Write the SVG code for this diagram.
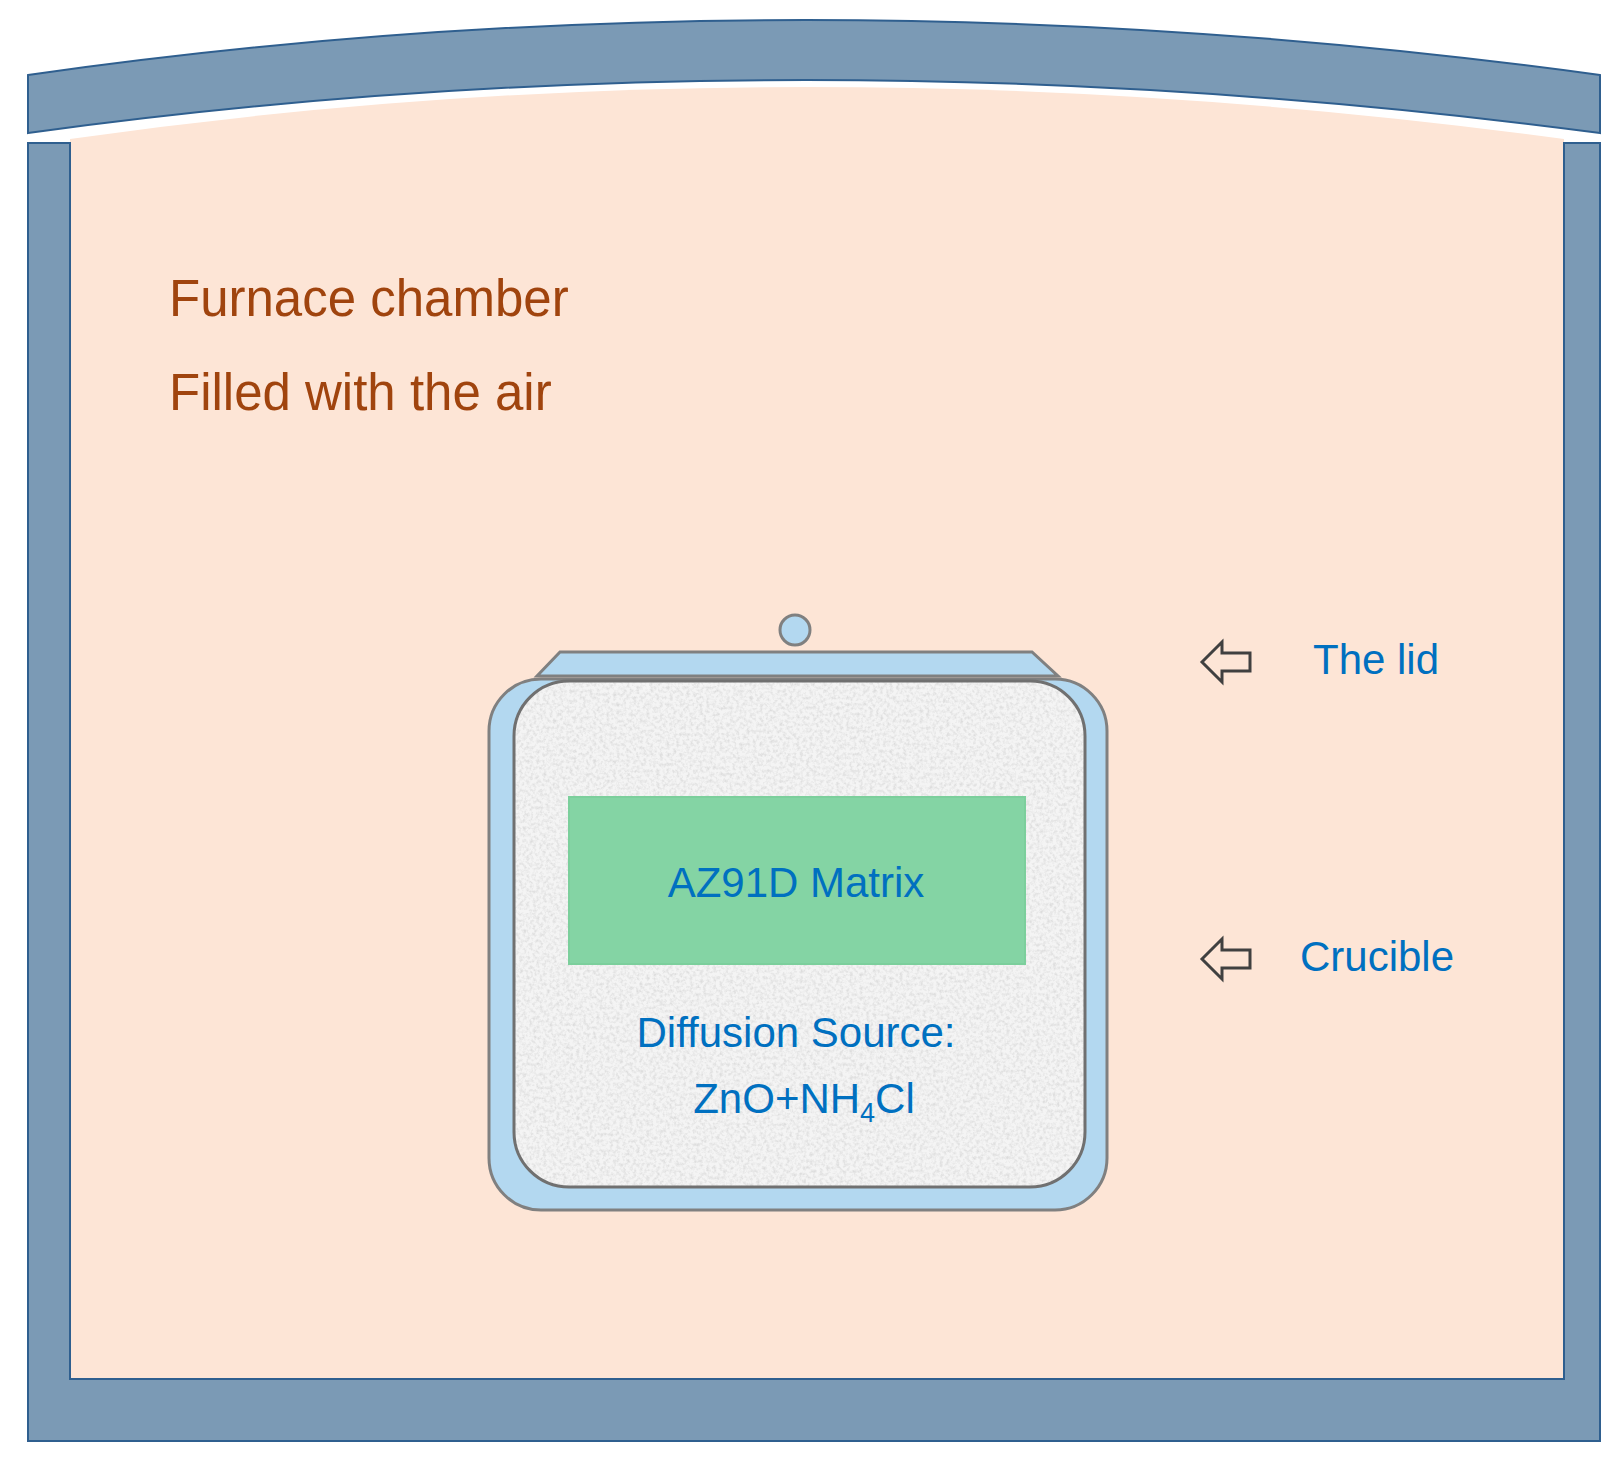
<svg xmlns="http://www.w3.org/2000/svg" width="1617" height="1463" viewBox="0 0 1617 1463">
<style>
.wall{fill:#7b9ab5;stroke:#2f5f8f;stroke-width:2}
.lbl{font-family:"Liberation Sans",Arial,sans-serif;fill:#0070c0}
.ch{font-family:"Liberation Sans",Arial,sans-serif;fill:#a0440e;font-size:51px}
.arr{fill:#fde5d6;stroke:#404040;stroke-width:3;stroke-linejoin:miter}
</style>
<defs>
<filter id="noise" x="0" y="0" width="100%" height="100%">
<feTurbulence type="fractalNoise" baseFrequency="0.3" numOctaves="3" seed="3"/>
<feColorMatrix type="matrix" values="0 0 0 0 0.72  0 0 0 0 0.72  0 0 0 0 0.72  0 0 0 -2.2 1.3"/>
<feComposite in2="SourceGraphic" operator="in"/>
</filter>
</defs>
<rect width="1617" height="1463" fill="#ffffff"/>
<g id="chamber">
<path d="M70 139 Q798 35 1564 139 L1564 1379 L70 1379 Z" fill="#fde5d6"/>
<path class="wall" d="M28 143 L70 143 L70 1379 L1564 1379 L1564 143 L1600 143 L1600 1441 L28 1441 Z"/>
<path class="wall" d="M28 75 Q798 -35 1600 75 L1600 133 Q798 27 28 133 Z"/>
<text class="ch" x="169" y="316">Furnace chamber</text>
<text class="ch" x="169" y="410">Filled with the air</text>
</g>
<g id="crucible">
<rect x="489" y="679" width="618" height="531" rx="52" fill="#b3d8f0" stroke="#808080" stroke-width="3"/>
<rect x="514" y="681" width="571" height="506" rx="55" fill="#f4f4f4"/>
<rect x="514" y="681" width="571" height="506" rx="55" fill="#f4f4f4" filter="url(#noise)"/>
<rect x="514" y="681" width="571" height="506" rx="55" fill="none" stroke="#707070" stroke-width="3"/>
<text class="lbl" x="796" y="1047" font-size="42" text-anchor="middle">Diffusion Source:</text>
<text class="lbl" x="804" y="1113" font-size="42" text-anchor="middle">ZnO+NH<tspan font-size="27" dy="9">4</tspan><tspan dy="-9">Cl</tspan></text>
</g>
<g id="lid">
<path d="M560 652 L1032 652 L1058 676 L537 676 Z" fill="#b3d8f0" stroke="#808080" stroke-width="3"/>
<circle cx="795" cy="630" r="15" fill="#b3d8f0" stroke="#808080" stroke-width="3"/>
</g>
<g id="matrix">
<rect x="569" y="797" width="456" height="167" fill="#84d4a4" stroke="#7ccf9c" stroke-width="2"/>
<text class="lbl" x="796" y="897" font-size="42" text-anchor="middle">AZ91D Matrix</text>
</g>
<g id="connectors">
<path class="arr" d="M1202 662 L1222 642 L1222 653 L1250 653 L1250 671 L1222 671 L1222 682 Z"/>
<path class="arr" d="M1202 959 L1222 939 L1222 950 L1250 950 L1250 968 L1222 968 L1222 979 Z"/>
</g>
<g id="labels">
<text class="lbl" x="1313" y="674" font-size="42">The lid</text>
<text class="lbl" x="1300" y="971" font-size="42">Crucible</text>
</g>
</svg>
